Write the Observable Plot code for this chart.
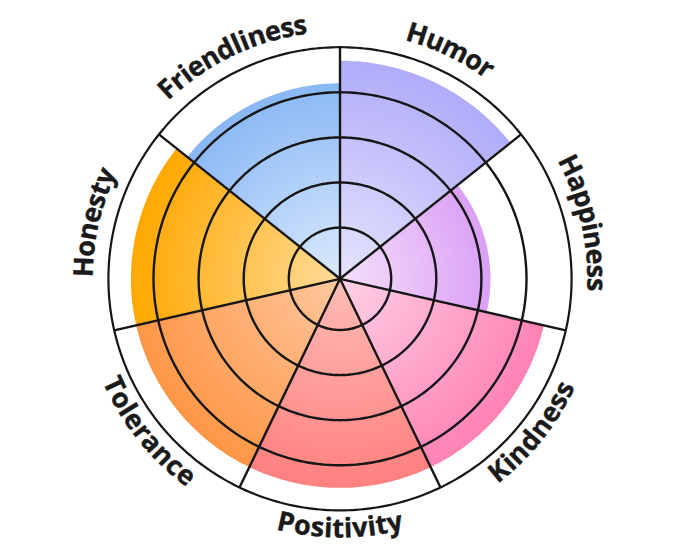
<!DOCTYPE html>
<html><head><meta charset="utf-8">
<script src="https://cdn.jsdelivr.net/npm/d3@7"></script>
<script src="https://cdn.jsdelivr.net/npm/@observablehq/plot@0.6"></script>
<style>html,body{margin:0;padding:0;background:#fff;} svg{display:block;}</style>
</head><body><div id="chart"></div>
<script>
// ---- data ----
const categories = ["Humor", "Happiness", "Kindness", "Positivity", "Tolerance", "Honesty", "Friendliness"];
const values = [9.4, 6.4, 9.0, 9.0, 9.0, 9.0, 8.4];
const ringValues = [2, 4, 6, 8, 10];
const maxValue = 10;
const edgeColors = ["#b0acfa", "#daa0f5", "#ff82b4", "#ff8080", "#ff9646", "#ffa800", "#8ab8f5"];
const centerColors = ["#e6e4fd", "#f6e0fb", "#ffd2e4", "#ffbcb6", "#ffc8a0", "#ffdc9a", "#dceafd"];

// ---- layout ----
const W = 680, H = 557, cxPx = 339.5, cyPx = 278.3, pxPerUnit = 22.55, hub = 0.27, extent = 12;
const half = extent * pxPerUnit;
const rad = v => hub + v;
const n = categories.length, step = 360 / n;
const toXY = (deg, r) => ({x: r * Math.sin(deg * Math.PI / 180), y: r * Math.cos(deg * Math.PI / 180)});

const sectors = categories.map((c, i) => {
  const a0 = i * step, a1 = (i + 1) * step;
  const pts = [{x: 0, y: 0}];
  for (let k = 0; k <= 60; k++) pts.push(toXY(a0 + (a1 - a0) * k / 60, rad(values[i])));
  pts.push({x: 0, y: 0});
  return pts;
});
const ringPts = ringValues.flatMap(v => d3.range(0, 361, 1).map(a => ({ring: v, ...toXY(a, rad(v))})));
const spokes = categories.map((c, i) => ({a: i * step}));

const fontSize = 27;
const ctx = document.createElement("canvas").getContext("2d");
ctx.font = `700 ${fontSize}px 'Open Sans'`;
const letters = categories.flatMap((c, i) => {
  const mid = (i + 0.5) * step;
  const inward = mid > 90 && mid < 270;
  const rPx = inward ? 250 : 256;
  const chars = [...c];
  const widths = chars.map(ch => ctx.measureText(ch).width);
  const total = d3.sum(widths);
  let acc = -total / 2;
  return chars.map((ch, k) => {
    const s = acc + widths[k] / 2; acc += widths[k];
    const deg = mid + (inward ? -1 : 1) * (s / rPx) * 180 / Math.PI;
    const p = toXY(deg, rPx / pxPerUnit);
    return {ch, x: p.x, y: p.y, rotate: inward ? deg - 180 : deg};
  });
});

const chart = Plot.plot({
  width: W, height: H,
  marginLeft: cxPx - half, marginRight: W - cxPx - half,
  marginTop: cyPx - half, marginBottom: H - cyPx - half,
  x: {domain: [-extent, extent], axis: null},
  y: {domain: [-extent, extent], axis: null},
  style: {background: "white", overflow: "visible"},
  marks: [
    ...sectors.map((pts, i) => Plot.line(pts, {x: "x", y: "y", fill: `url(#grad${i})`, stroke: "none"})),
    Plot.line(ringPts.filter(d => d.ring < maxValue), {x: "x", y: "y", z: "ring", stroke: "#161616", strokeWidth: 2.4}),
    Plot.line(ringPts.filter(d => d.ring === maxValue), {x: "x", y: "y", z: "ring", stroke: "#161616", strokeWidth: 2.2}),
    Plot.link(spokes, {
      x1: d => 0, y1: d => 0,
      x2: d => toXY(d.a, rad(maxValue)).x, y2: d => toXY(d.a, rad(maxValue)).y,
      stroke: "#161616", strokeWidth: 2.4
    }),
    Plot.text(letters, {
      x: "x", y: "y", text: "ch", rotate: "rotate",
      fontSize: fontSize, fontWeight: 700, fontFamily: "'Open Sans', sans-serif",
      fill: "#1a1a1a", stroke: "#1a1a1a", strokeWidth: 0.4,
      textAnchor: "middle", lineAnchor: "middle"
    })
  ]
});

const xs = chart.scale("x"), ys = chart.scale("y");
const cx = xs.apply(0), cy = ys.apply(0);
const defs = d3.create("svg:defs");
categories.forEach((c, i) => {
  const g = defs.append("radialGradient").attr("id", `grad${i}`)
    .attr("gradientUnits", "userSpaceOnUse")
    .attr("cx", cx).attr("cy", cy).attr("r", xs.apply(rad(values[i])) - cx);
  g.append("stop").attr("offset", 0).attr("stop-color", centerColors[i]);
  g.append("stop").attr("offset", 1).attr("stop-color", edgeColors[i]);
});
chart.insertBefore(defs.node(), chart.firstChild);
document.getElementById("chart").appendChild(chart);
</script>
</body></html>
